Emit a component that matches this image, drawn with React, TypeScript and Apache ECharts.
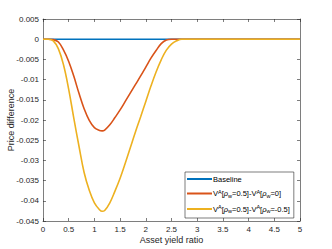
import React, { useEffect, useRef } from "react";
import * as echarts from "echarts";

const xValues = [0, 0.1, 0.2, 0.3, 0.4, 0.5, 0.6, 0.7, 0.8, 0.9, 1.0, 1.1, 1.15, 1.2, 1.3, 1.4, 1.5, 1.6, 1.7, 1.8, 1.9, 2.0, 2.1, 2.2, 2.3, 2.4, 2.5, 2.6, 2.7, 2.8, 3, 3.5, 4, 4.5, 5];
const baseline = [0, 0, 0, 0, 0, 0, 0, 0, 0, 0, 0, 0, 0, 0, 0, 0, 0, 0, 0, 0, 0, 0, 0, 0, 0, 0, 0, 0, 0, 0, 0, 0, 0, 0, 0];
const diffRho0 = [0, 0, -0.0001, -0.0007, -0.0027, -0.0055, -0.0092, -0.0134, -0.0172, -0.0201, -0.0219, -0.0226, -0.0227, -0.0225, -0.0212, -0.0194, -0.0175, -0.0154, -0.0133, -0.0112, -0.0091, -0.0069, -0.0047, -0.0028, -0.0011, -0.0002, 0, 0, 0, 0, 0, 0, 0, 0, 0];
const diffRhoNeg = [0, 0, -0.0004, -0.0024, -0.0064, -0.0124, -0.0196, -0.0265, -0.033, -0.0374, -0.0405, -0.0422, -0.0426, -0.0424, -0.0405, -0.0376, -0.0344, -0.0307, -0.0268, -0.0229, -0.0192, -0.0154, -0.0116, -0.0081, -0.0051, -0.0027, -0.0012, -0.0004, 0, 0, 0, 0, 0, 0, 0];

const seriesNames = ["Baseline", "rho0", "rhoNeg"];
const legendLabels: Record<string, string> = {
  Baseline: "Baseline",
  rho0: "V{sup|A}[{i|ρ}{sub|w}=0.5]-V{sup|A}[{i|ρ}{sub|w}=0]",
  rhoNeg: "V{sup|A}[{i|ρ}{sub|w}=0.5]-V{sup|A}[{i|ρ}{sub|w}=-0.5]",
};
const colors = ["#0072BD", "#D95319", "#EDB120"];

const FONT = "'Liberation Sans', Arial, Helvetica, sans-serif";
const AX = "#262626";

const fmt = (v: number) => {
  const r = parseFloat(v.toFixed(4));
  return r === 0 ? "0" : String(r);
};

export default function App() {
  const ref = useRef<HTMLDivElement>(null);
  useEffect(() => {
    if (!ref.current) return;
    const chart = echarts.init(ref.current, undefined, { renderer: "svg" });
    const mk = (vals: number[]) => xValues.map((x, i) => [x, vals[i]]);
    const axisCommon = {
      type: "value" as const,
      axisLine: { show: true, onZero: false, lineStyle: { color: AX, width: 0.6 } },
      axisTick: { show: true, inside: true, length: 3, lineStyle: { color: AX, width: 0.6 } },
      splitLine: { show: false },
    };
    chart.setOption({
      animation: false,
      backgroundColor: "#ffffff",
      grid: { left: 43, right: 32, top: 19, bottom: 28, containLabel: false, outerBoundsMode: "none" },
      xAxis: [
        {
          ...axisCommon,
          min: 0,
          max: 5,
          interval: 0.5,
          position: "bottom",
          name: "Asset yield ratio",
          nameLocation: "middle",
          nameGap: 14,
          nameMoveOverlap: false,
          nameTextStyle: { color: AX, fontSize: 9, fontFamily: FONT },
          axisLabel: { color: AX, fontSize: 8, fontFamily: FONT, margin: 4, formatter: fmt },
        },
        {
          ...axisCommon,
          min: 0,
          max: 5,
          interval: 0.5,
          position: "top",
          axisLabel: { show: false },
        },
      ],
      yAxis: [
        {
          ...axisCommon,
          min: -0.045,
          max: 0.005,
          interval: 0.005,
          position: "left",
          name: "Price difference",
          nameLocation: "middle",
          nameGap: 28,
          nameMoveOverlap: false,
          nameTextStyle: { color: AX, fontSize: 9, fontFamily: FONT },
          axisLabel: { color: AX, fontSize: 8, fontFamily: FONT, margin: 4, formatter: fmt },
        },
        {
          ...axisCommon,
          min: -0.045,
          max: 0.005,
          interval: 0.005,
          position: "right",
          axisLabel: { show: false },
        },
      ],
      legend: {
        orient: "vertical",
        left: 185,
        top: 172,
        padding: [3, 4, 4, 2],
        itemGap: 5.5,
        itemWidth: 25,
        itemHeight: 2,
        icon: "rect",
        borderColor: AX,
        borderWidth: 0.6,
        backgroundColor: "#ffffff",
        data: seriesNames,
        formatter: (name: string) => legendLabels[name],
        textStyle: {
          color: "#000",
          fontSize: 7.5,
          fontFamily: FONT,
          padding: [0, 0, 0, -4],
          rich: {
            sup: { fontSize: 5.5, verticalAlign: "top", fontFamily: FONT, color: "#000", padding: [0, 0, 4, 0] },
            sub: { fontSize: 5.5, verticalAlign: "bottom", fontFamily: FONT, color: "#000", padding: [4, 0, 0, 0] },
            i: { fontSize: 7.5, fontStyle: "italic", fontFamily: FONT, color: "#000" },
          },
        },
      },
      series: [
        { name: "Baseline", type: "line", data: mk(baseline), symbol: "none", smooth: false, lineStyle: { color: colors[0], width: 1.6 }, itemStyle: { color: colors[0] } },
        { name: "rho0", type: "line", data: mk(diffRho0), symbol: "none", smooth: 0.4, lineStyle: { color: colors[1], width: 1.6 }, itemStyle: { color: colors[1] } },
        { name: "rhoNeg", type: "line", data: mk(diffRhoNeg), symbol: "none", smooth: 0.4, lineStyle: { color: colors[2], width: 1.6 }, itemStyle: { color: colors[2] } },
      ],
    });
    return () => chart.dispose();
  }, []);
  return <div ref={ref} style={{ position: "absolute", left: 0, top: 0, width: 332, height: 249 }} />;
}
